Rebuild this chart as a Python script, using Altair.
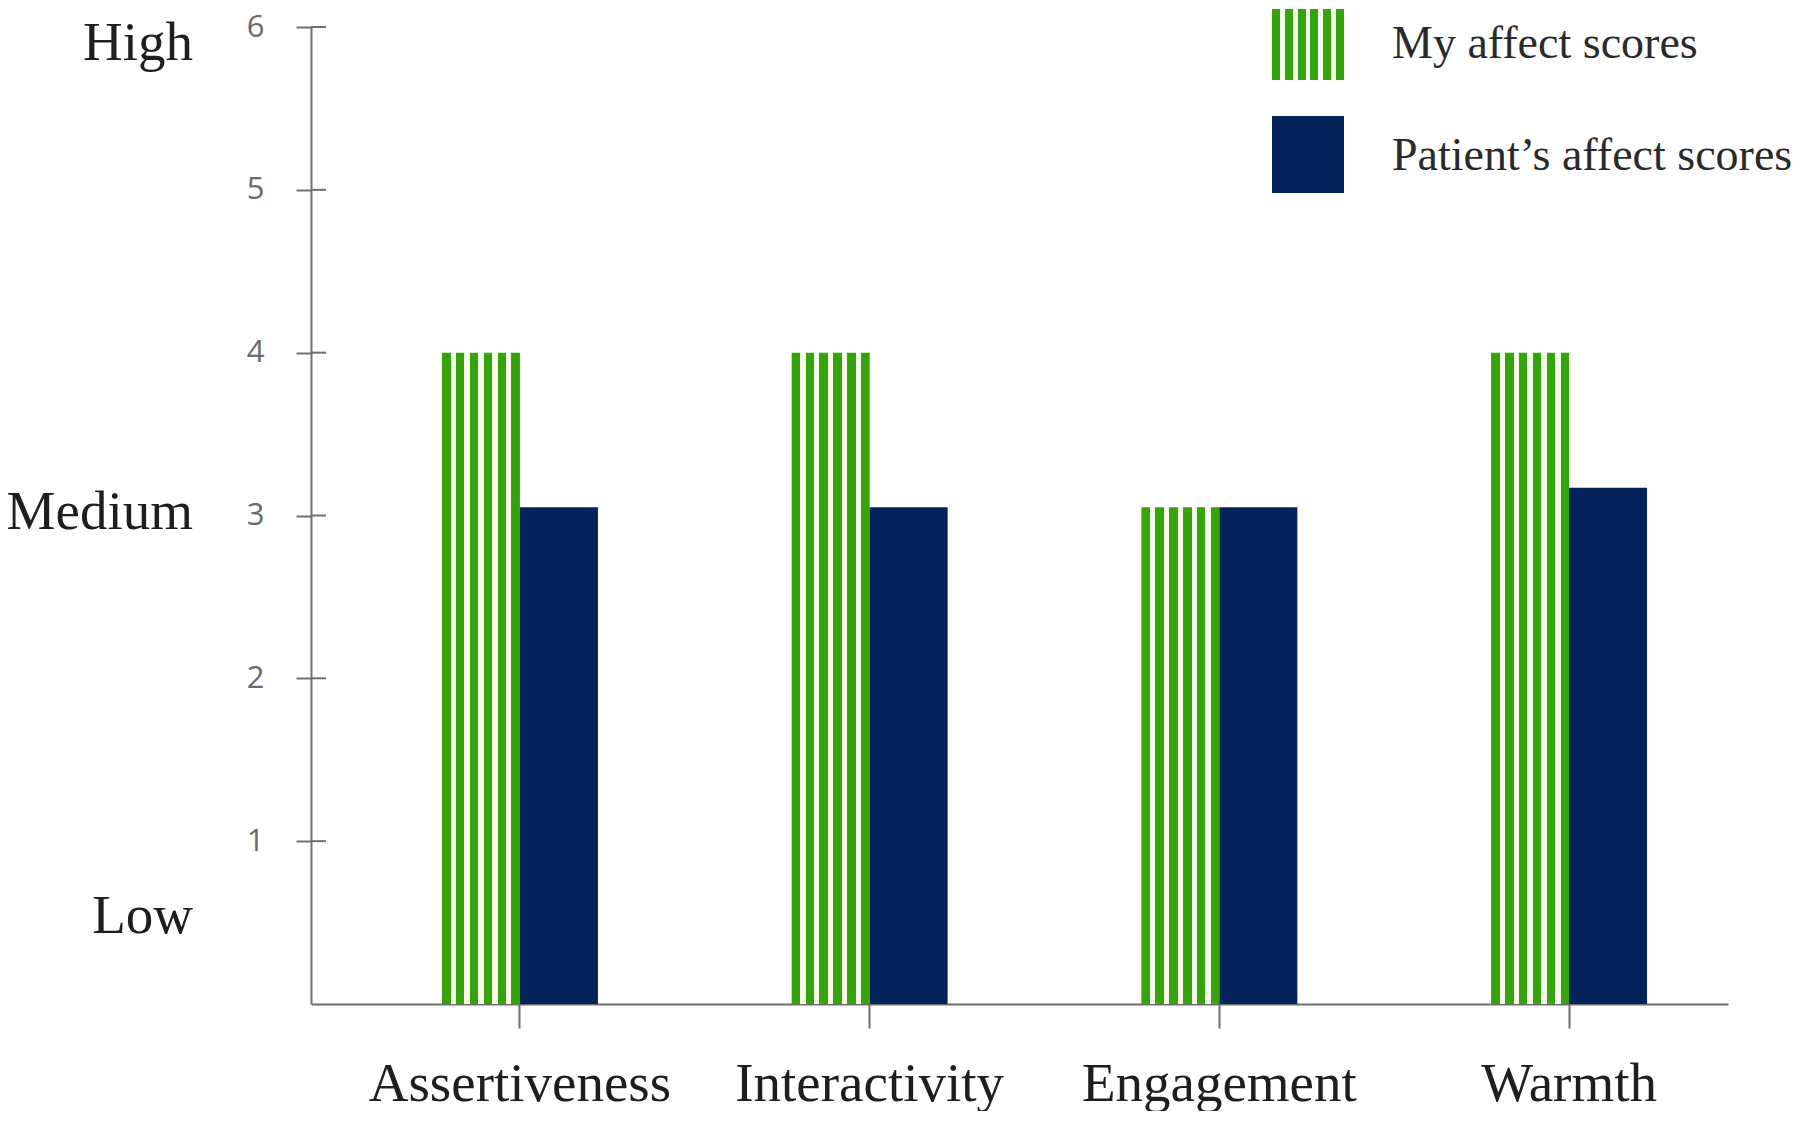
import altair as alt
import pandas as pd

# ---- data ----
categories = ["Assertiveness", "Interactivity", "Engagement", "Warmth"]
series_names = ["My affect scores", "Patient’s affect scores"]
my_scores = [4.0, 4.0, 3.05, 4.0]
patient_scores = [3.05, 3.05, 3.05, 3.17]
y_tick_values = [1, 2, 3, 4, 5, 6]
level_labels = ["High", "Medium", "Low"]
level_positions = [5.9, 3.02, 0.54]

# ---- style ----
GREEN = "#35a30b"
LIGHT = "#f5fbe9"
NAVY = "#03235a"
AXIS_GRAY = "#6e6e6e"
TEXT_DARK = "#1e1e1e"
SERIF = "Liberation Serif"


def stripes(n_green=6, g=1.6, w=1.0):
    total = n_green * g + (n_green - 1) * w
    stops = []
    pos = 0.0
    for i in range(n_green):
        stops.append(alt.GradientStop(color=GREEN, offset=round(pos / total, 4)))
        pos += g
        stops.append(alt.GradientStop(color=GREEN, offset=round(pos / total, 4)))
        if i < n_green - 1:
            stops.append(alt.GradientStop(color=LIGHT, offset=round(pos / total, 4)))
            pos += w
            stops.append(alt.GradientStop(color=LIGHT, offset=round(pos / total, 4)))
    return alt.LinearGradient(gradient="linear", stops=stops, x1=0, x2=1, y1=0, y2=0)


df = pd.DataFrame({
    "category": categories * 2,
    "series": [series_names[0]] * len(categories) + [series_names[1]] * len(categories),
    "score": my_scores + patient_scores,
})

x_enc = alt.X(
    "category:N",
    sort=categories,
    scale=alt.Scale(domain=categories, paddingInner=0.554, paddingOuter=0.303, align=0.618),
    axis=alt.Axis(
        title=None, labelAngle=0, labelFont=SERIF, labelFontSize=55, labelColor=TEXT_DARK,
        labelPadding=29, labelLimit=0, tickSize=24, tickWidth=2, tickColor=AXIS_GRAY,
        domainColor=AXIS_GRAY, domainWidth=2, grid=False,
    ),
)
xoff_enc = alt.XOffset(
    "series:N", sort=series_names,
    scale=alt.Scale(domain=series_names, paddingInner=0, paddingOuter=0),
)
y_enc = alt.Y(
    "score:Q",
    scale=alt.Scale(domain=[0, 6], nice=False, zero=True),
    axis=alt.Axis(
        title=None, values=y_tick_values, grid=False, labelFont="Open Sans",
        labelFontSize=31, labelColor="#6a6a6a", labelPadding=32, tickSize=15,
        tickWidth=2, tickColor=AXIS_GRAY, domainColor=AXIS_GRAY, domainWidth=2,
    ),
)

green_bars = alt.Chart(df).transform_filter(
    alt.FieldEqualPredicate(field="series", equal=series_names[0])
).mark_bar(fill=stripes()).encode(x=x_enc, xOffset=xoff_enc, y=y_enc)

navy_bars = alt.Chart(df).transform_filter(
    alt.FieldEqualPredicate(field="series", equal=series_names[1])
).mark_bar(fill=NAVY).encode(x=x_enc, xOffset=xoff_enc, y=y_enc)

# inner half of the y-axis ticks (the reference's ticks cross the axis line)
ticks_df = pd.DataFrame({"score": y_tick_values})
inner_ticks = alt.Chart(ticks_df).mark_rule(color=AXIS_GRAY, strokeWidth=2).encode(
    y=y_enc, x=alt.value(0), x2=alt.value(15)
)

levels_df = pd.DataFrame({"level": level_labels, "score": level_positions})
levels = alt.Chart(levels_df).mark_text(
    align="right", baseline="middle", font=SERIF, fontSize=55, color=TEXT_DARK
).encode(y=y_enc, x=alt.value(-118), text="level:N")

# ---- manual legend (striped swatch can't be a standard legend symbol) ----
swatch_fills = [stripes(), NAVY]
swatch_tops = [-18, 89]
swatch_bottoms = [53, 166]
text_ys = [17, 129]
legend_layers = []
for name, fill, top, bottom, ty in zip(series_names, swatch_fills, swatch_tops, swatch_bottoms, text_ys):
    ldf = pd.DataFrame({"series": [name]})
    legend_layers.append(
        alt.Chart(ldf).mark_rect(fill=fill).encode(
            x=alt.value(961), x2=alt.value(1033), y=alt.value(top), y2=alt.value(bottom)
        )
    )
    legend_layers.append(
        alt.Chart(ldf).mark_text(
            align="left", baseline="middle", font=SERIF, fontSize=46, color="#2a2a2a"
        ).encode(x=alt.value(1081), y=alt.value(ty), text="series:N")
    )

chart = alt.layer(green_bars, navy_bars, inner_ticks, levels, *legend_layers).properties(
    width=1417,
    height=977,
    padding={"left": 303, "top": 19, "right": 64, "bottom": 107},
    autosize=alt.AutoSizeParams(type="none"),
    background="white",
).configure_view(stroke=None)

chart.save("out.html", embed_options={"renderer": "svg", "actions": False})
